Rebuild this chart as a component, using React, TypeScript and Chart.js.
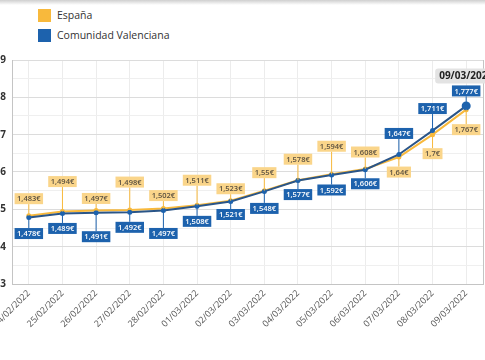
import React, { useEffect, useRef } from "react";
import { Chart, registerables } from "chart.js";

Chart.register(...registerables);

const labels = [
  "24/02/2022", "25/02/2022", "26/02/2022", "27/02/2022", "28/02/2022",
  "01/03/2022", "02/03/2022", "03/03/2022", "04/03/2022", "05/03/2022",
  "06/03/2022", "07/03/2022", "08/03/2022", "09/03/2022",
];
const espana = [1.483, 1.494, 1.497, 1.498, 1.502, 1.511, 1.523, 1.55, 1.578, 1.594, 1.608, 1.64, 1.7, 1.767];
const valencia = [1.478, 1.489, 1.491, 1.492, 1.497, 1.508, 1.521, 1.548, 1.577, 1.592, 1.606, 1.647, 1.711, 1.777];
const seriesNames = ["España", "Comunidad Valenciana"];

// label placement (px from point, negative = above)
const espanaLabelOffsets = [-17, -30, -12, -28, -13, -25, -12, -18, -21, -28, -17, 15, 19, 20];
const valenciaLabelOffsets = [16, 15, 24, 15, 23, 15, 13, 17, 14, 15, 14, -21, -22, -15];

const ORANGE = "#f8b93c";
const ORANGE_BG = "#fad58a";
const BLUE = "#1d62ad";
const NAVY = "#2a5588";
const FONT = "'Open Sans', sans-serif";

const fmt = (v: number) => String(v).replace(".", ",") + "€";

const labelStyles = [
  { offsets: espanaLabelOffsets, bg: ORANGE_BG, fg: "#5a5040", line: ORANGE },
  { offsets: valenciaLabelOffsets, bg: BLUE, fg: "#ffffff", line: BLUE },
];

const valueLabelPlugin = {
  id: "valueLabels",
  beforeDatasetsDraw(chart: any) {
    const { ctx, chartArea } = chart;
    ctx.save();
    ctx.strokeStyle = "#c4c4c4";
    ctx.lineWidth = 1;
    ctx.beginPath();
    ctx.moveTo(chartArea.right + 0.5, chartArea.top);
    ctx.lineTo(chartArea.right + 0.5, chartArea.bottom);
    ctx.stroke();
    ctx.restore();
  },
  afterDatasetsDraw(chart: any) {
    const ctx = chart.ctx;
    ctx.save();
    ctx.font = `600 7.5px ${FONT}`;
    ctx.textAlign = "center";
    ctx.textBaseline = "middle";
    const h = 11;
    chart.data.datasets.forEach((ds: any, di: number) => {
      const st = labelStyles[di];
      const meta = chart.getDatasetMeta(di);
      meta.data.forEach((pt: any, i: number) => {
        const off = st.offsets[i];
        const cx = pt.x;
        const cy = pt.y + off;
        const text = fmt(ds.data[i]);
        const w = ctx.measureText(text).width + 5;
        ctx.strokeStyle = st.line;
        ctx.lineWidth = 1;
        ctx.beginPath();
        ctx.moveTo(cx, pt.y);
        ctx.lineTo(cx, off < 0 ? cy + h / 2 : cy - h / 2);
        ctx.stroke();
        ctx.fillStyle = st.bg;
        ctx.fillRect(cx - w / 2, cy - h / 2, w, h);
        ctx.fillStyle = st.fg;
        ctx.fillText(text, cx, cy + 0.5);
      });
    });
    ctx.restore();
  },
  afterDraw(chart: any) {
    const ctx = chart.ctx;
    const meta = chart.getDatasetMeta(1);
    const last = meta.data.length - 1;
    const pt = meta.data[last];
    const title = chart.data.labels[last];
    ctx.save();
    ctx.font = `bold 10px ${FONT}`;
    const w = ctx.measureText(title).width + 8;
    const h = 15;
    const cy = pt.y - 30;
    ctx.fillStyle = "#e3e3e3";
    ctx.beginPath();
    (ctx as any).roundRect(pt.x - w / 2, cy - h / 2, w, h, 3);
    ctx.fill();
    ctx.fillStyle = "#222";
    ctx.textAlign = "center";
    ctx.textBaseline = "middle";
    ctx.fillText(title, pt.x, cy + 0.5);
    ctx.restore();
  },
};

export default function App() {
  const ref = useRef<HTMLCanvasElement>(null);
  useEffect(() => {
    document.body.style.margin = "0";
    const lastIdx = labels.length - 1;
    const chart = new Chart(ref.current!, {
      type: "line",
      data: {
        labels,
        datasets: [
          {
            label: seriesNames[0],
            data: espana,
            borderColor: ORANGE,
            backgroundColor: ORANGE,
            borderWidth: 2,
            pointRadius: 2.5,
            pointBorderWidth: 0,
            tension: 0,
            order: 2,
          },
          {
            label: seriesNames[1],
            data: valencia,
            borderColor: NAVY,
            backgroundColor: BLUE,
            borderWidth: 2,
            pointRadius: (c: any) => (c.dataIndex === lastIdx ? 4.5 : 2.5),
            pointBorderWidth: 0,
            tension: 0,
            order: 1,
          },
        ],
      },
      options: {
        responsive: false,
        animation: false,
        events: [],
        layout: { padding: { top: 60, right: 19, bottom: 0, left: 0 } },
        plugins: { legend: { display: false }, tooltip: { enabled: false } },
        scales: {
          x: {
            offset: true,
            grid: { color: "#ececec", drawTicks: false },
            border: { color: "#c4c4c4" },
            ticks: {
              minRotation: 45,
              maxRotation: 45,
              padding: 4,
              color: "#555",
              font: { family: FONT, size: 9 },
            },
            afterFit: (s: any) => {
              s.height = 76;
              s.paddingLeft = 0;
              s.paddingRight = 0;
            },
          },
          y: {
            min: 1.3,
            max: 1.9,
            grid: {
              drawTicks: false,
              color: (c: any) => (c.index % 2 === 0 ? "#dcdcdc" : "#efefef"),
            },
            border: { color: "#c4c4c4" },
            ticks: {
              stepSize: 0.05,
              padding: 6,
              color: "#333",
              font: { family: FONT, size: 10, weight: "bold" },
              callback: (v: any, i: number) =>
                i % 2 === 0 ? Number(v).toFixed(1).replace(".", ",") : "",
            },
            afterFit: (s: any) => {
              s.width = 30;
            },
          },
        },
      },
      plugins: [valueLabelPlugin],
    });
    return () => chart.destroy();
  }, []);

  const legendItem = (color: string, text: string, top: number) => (
    <div style={{ position: "absolute", left: 38, top, display: "flex", alignItems: "center" }}>
      <div style={{ width: 13, height: 13, background: color }} />
      <span style={{ marginLeft: 6, fontFamily: FONT, fontSize: 10.5, color: "#333" }}>{text}</span>
    </div>
  );

  return (
    <div style={{ position: "fixed", left: 0, top: 0, width: 485, height: 360, overflow: "hidden", background: "#fff" }}>
      <div style={{ position: "absolute", left: 0, top: 0, width: 485, height: 5, background: "linear-gradient(#cfcfcf, rgba(255,255,255,0))" }} />
      {legendItem(ORANGE, seriesNames[0], 8)}
      {legendItem(BLUE, seriesNames[1], 28)}
      <canvas ref={ref} width={520} height={360} style={{ position: "absolute", left: -18, top: 0 }} />
    </div>
  );
}
